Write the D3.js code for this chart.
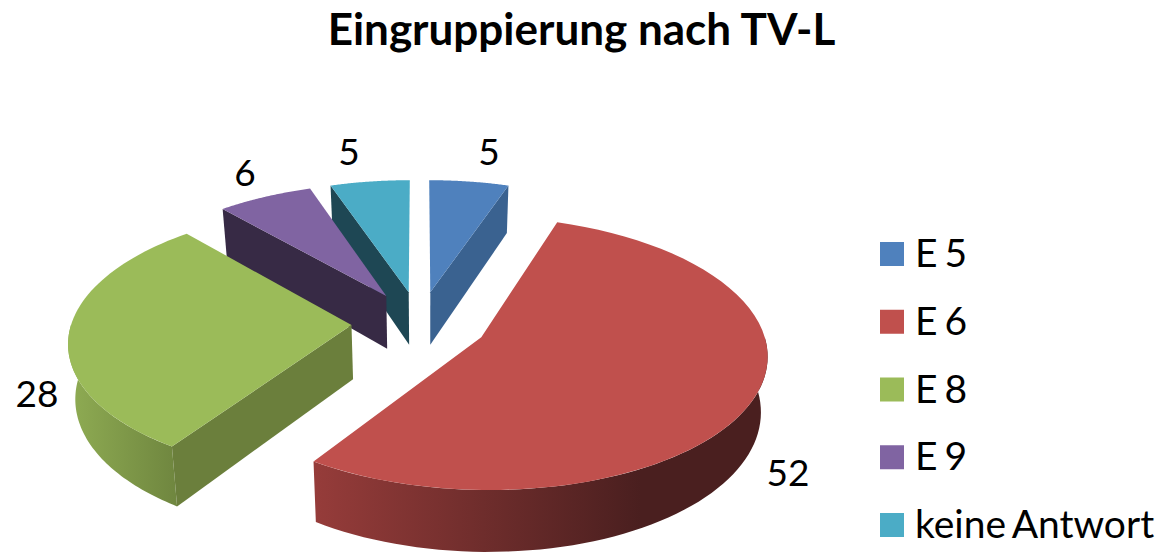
<!DOCTYPE html>
<html>
<head>
<meta charset="utf-8">
<script src="https://cdn.jsdelivr.net/npm/d3@7"></script>
<style>
  html, body { margin: 0; padding: 0; background: #fff; overflow: hidden; }
  svg { display: block; }
  text { font-family: Lato, "Open Sans", sans-serif; fill: #000; }
</style>
</head>
<body>
<svg width="1162" height="552"></svg>
<script>
// данные диаграммы
const categories = ["E 5", "E 6", "E 8", "E 9", "keine Antwort"];
const values = [5, 52, 28, 6, 5];
const title = "Eingruppierung nach TV-L";

const topColors = ["#4F81BD", "#C0504D", "#9BBB59", "#8064A2", "#4BACC6"];
const faceColors = ["#3A6290", "#4A1F1F", "#6B7F3C", "#372A45", "#1E4754"];
// цвета боковой стенки: слева и справа
const rimColors = [["#3A6290", "#3A6290"], ["#963C3A", "#4A1F1F"], ["#8FAC53", "#6F863F"], ["#372A45", "#372A45"], ["#1E4754", "#1E4754"]];

const svg = d3.select("svg");

// параметры проекции: единичный круг в перспективе
const attr_pie = { cx: 419.5, cy: 323, radius: 280, depth: 54, tilt: 0.47, persp: 0.115, explode: 0.243, vanishX: 430, shrink: 0.98 };

const scX = d3.scaleLinear().domain([0, 1]).range([attr_pie.cx, attr_pie.cx + attr_pie.radius]);
const scY = d3.scaleLinear().domain([0, 1]).range([attr_pie.cy, attr_pie.cy + attr_pie.radius * attr_pie.tilt]);

// точка на круге -> экран; bottom - нижняя кромка среза
function project(u, v, bottom) {
    const w = 1 / (1 - attr_pie.persp * v);
    let x = scX(u * w);
    let y = scY(v * w);
    if (bottom) {
        x = attr_pie.vanishX + (x - attr_pie.vanishX) * attr_pie.shrink;
        y += attr_pie.depth * w;
    }
    return [x, y];
}

const line = d3.line();
const pie = d3.pie().sort(null).value(d => d)(values);

function onRim(d, a, bottom) {
    const mid = (d.startAngle + d.endAngle) / 2;
    const ox = attr_pie.explode * Math.sin(mid);
    const oy = -attr_pie.explode * Math.cos(mid);
    return project(ox + Math.sin(a), oy - Math.cos(a), bottom);
}

function apex(d, bottom) {
    const mid = (d.startAngle + d.endAngle) / 2;
    return project(attr_pie.explode * Math.sin(mid), -attr_pie.explode * Math.cos(mid), bottom);
}

function arcPoints(d, a0, a1, bottom) {
    return d3.range(0, 61).map(i => onRim(d, a0 + (a1 - a0) * i / 60, bottom));
}

const defs = svg.append("defs");

// порядок отрисовки: от дальних к ближним
const drawOrder = [0, 4, 3, 2, 1];

drawOrder.forEach(i => {
    const d = pie[i];
    const g = svg.append("g");

    // стенка по дуге видна только в передней половине
    const a0 = Math.max(d.startAngle, Math.PI / 2);
    const a1 = Math.min(d.endAngle, Math.PI * 3 / 2);
    if (a0 < a1) {
        const top = arcPoints(d, a0, a1, false);
        const bot = arcPoints(d, a0, a1, true).reverse();
        const xs = d3.extent(top.concat(bot), p => p[0]);
        const gradId = "rim" + i;
        const grad = defs.append("linearGradient")
            .attr("id", gradId)
            .attr("gradientUnits", "userSpaceOnUse")
            .attr("x1", xs[0]).attr("x2", i === 1 ? xs[0] + (xs[1] - xs[0]) * 0.72 : xs[1])
            .attr("y1", 0).attr("y2", 0);
        grad.append("stop").attr("offset", 0).attr("stop-color", rimColors[i][0]);
        grad.append("stop").attr("offset", 1).attr("stop-color", rimColors[i][1]);
        g.append("path")
            .attr("d", line(top.concat(bot)) + "Z")
            .attr("fill", `url(#${gradId})`);
    }

    // радиальные стенки
    [[d.startAngle, d.startAngle - Math.PI / 2], [d.endAngle, d.endAngle + Math.PI / 2]].forEach(([a, n]) => {
        if (Math.cos(n) < -0.01) {
            const pts = [apex(d, false), onRim(d, a, false), onRim(d, a, true), apex(d, true)];
            g.append("path").attr("d", line(pts) + "Z").attr("fill", faceColors[i]);
        }
    });

    // верхняя грань
    g.append("path")
        .attr("d", line([apex(d, false)].concat(arcPoints(d, d.startAngle, d.endAngle, false))) + "Z")
        .attr("fill", topColors[i]);
});

// подписи значений
const labelPos = [[489, 165], [788, 486], [37, 407], [245, 186], [349, 165]];
svg.selectAll(".value")
    .data(values)
    .enter()
    .append("text")
    .attr("class", "value")
    .attr("x", (d, i) => labelPos[i][0])
    .attr("y", (d, i) => labelPos[i][1])
    .attr("text-anchor", "middle")
    .style("font-size", "37px")
    .text(d => d);

// заголовок
svg.append("text")
    .attr("x", 581.5)
    .attr("y", 45)
    .attr("text-anchor", "middle")
    .style("font-size", "44px")
    .style("font-weight", "700")
    .text(title);

// легенда
const legendY = d3.scalePoint().domain(categories).range([254, 525]);
const legend = svg.selectAll(".legend")
    .data(categories)
    .enter()
    .append("g")
    .attr("class", "legend")
    .attr("transform", d => `translate(880, ${legendY(d)})`);

legend.append("rect")
    .attr("x", 0).attr("y", -12)
    .attr("width", 24).attr("height", 24)
    .attr("fill", (d, i) => topColors[i]);

legend.append("text")
    .attr("x", 35).attr("y", 13)
    .style("font-size", "39px")
    .style("word-spacing", "-3px")
    .text(d => d);
</script>
</body>
</html>
